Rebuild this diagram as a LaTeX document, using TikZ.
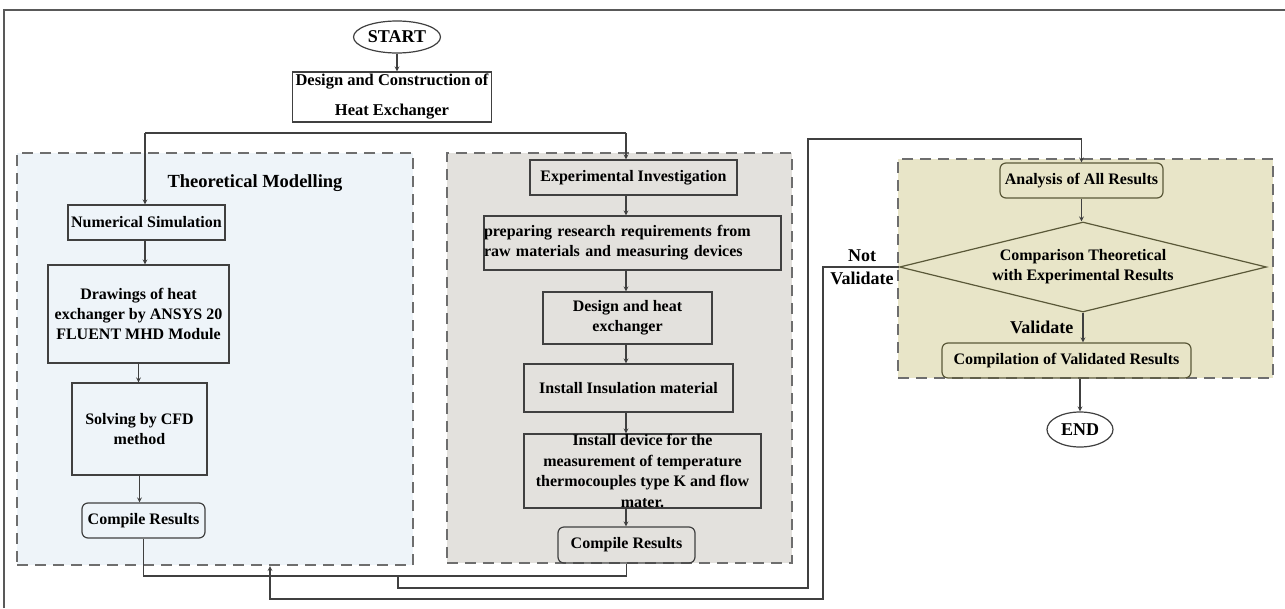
\documentclass[tikz,border=0pt]{standalone}
\usepackage{fontspec}
\setmainfont{Liberation Serif}
\usepackage{tikz}
\usetikzlibrary{shapes,arrows}

\definecolor{thfill}{HTML}{EEF4F9}
\definecolor{exfill}{HTML}{E3E1DD}
\definecolor{anfill}{HTML}{E8E5C8}
\definecolor{linec}{HTML}{404040}
\definecolor{dashc}{HTML}{6E6E6E}
\definecolor{olive}{HTML}{5A5838}

\begin{document}
\begin{tikzpicture}[x=1pt,y=-1pt,
    box/.style={rectangle,draw=linec,line width=1.2pt,inner sep=0pt,align=center,
        font=\bfseries\fontsize{16}{20}\selectfont},
    rbox/.style={box,rounded corners=6pt},
    panel/.style={rectangle,draw=dashc,line width=2pt,dash pattern=on 11pt off 7pt},
    term/.style={ellipse,draw=linec,line width=1.2pt,inner sep=0pt,
        font=\bfseries\fontsize{18}{20}\selectfont},
    conn/.style={draw=linec,line width=1.2pt},
    arr/.style={conn,->,>=stealth},
    lbl/.style={font=\bfseries\fontsize{18}{23}\selectfont,align=center,inner sep=0pt}]
        \useasboundingbox (0,0) rectangle (1285,608);
        \fill[white] (0,0) rectangle (1285,608);

        % 外框
        \draw[line width=1.2pt,black!65] (4,608) -- (4,10) -- (1285,10);

        % 三个虚线区域
        \node[panel,fill=thfill,minimum width=396,minimum height=412] (theo) at (215,359) {};
        \node[panel,fill=exfill,minimum width=345,minimum height=410] (expr) at (619.5,358) {};
        \node[panel,fill=anfill,minimum width=375,minimum height=219] (anl) at (1085.5,268.5) {};

        % 开始
        \node[term,minimum width=87,minimum height=32] (start) at (397,37) {START};
        \node[box,minimum width=199,minimum height=50,
              font=\bfseries\fontsize{16.5}{30}\selectfont] (design) at (392,97) {
            Design and Construction of\\Heat Exchanger};

        % 理论建模
        \node[font=\bfseries\fontsize{18.5}{20}\selectfont] (theohead) at (255,183) {Theoretical Modelling};
        \node[box,minimum width=157,minimum height=35] (numsim) at (146.5,222.5) {Numerical Simulation};
        \node[box,minimum width=181,minimum height=98] (drawing) at (138.5,314) {
            Drawings of heat\\exchanger by ANSYS 20\\FLUENT MHD Module};
        \node[box,minimum width=135,minimum height=92] (solving) at (139.5,429) {Solving by CFD\\method};
        \node[rbox,minimum width=123,minimum height=35] (compth) at (143.5,520.5) {Compile Results};

        % 实验研究
        \node[box,minimum width=207,minimum height=35] (expinv) at (633.5,177.5) {Experimental Investigation};
        \node[box,text width=297,align=left,minimum height=54] (prep) at (632.5,243) {
            preparing research requirements from\\raw materials and measuring devices};
        \node[box,minimum width=169,minimum height=52] (dsgn) at (627.5,318) {Design and heat\\exchanger};
        \node[box,minimum width=209,minimum height=48] (insul) at (628.5,388) {Install Insulation material};
        \node[box,minimum width=237,minimum height=74,
              font=\bfseries\fontsize{16}{20.5}\selectfont] (device) at (642.5,471) {
            Install device for the\\measurement of temperature\\thermocouples type K and flow\\mater.};
        \node[rbox,minimum width=137,minimum height=36] (compex) at (626.5,545) {Compile Results};

        % 结果分析
        \node[rbox,draw=olive,minimum width=163,minimum height=35] (analysis) at (1081.5,180.5) {Analysis of All Results};
        \node[diamond,aspect=4,draw=olive,line width=1.2pt,inner sep=0pt,minimum width=367,minimum height=90,
              align=center,font=\bfseries\fontsize{16}{20}\selectfont] (compare) at (1083,267) {
            Comparison Theoretical\\with Experimental Results};
        \node[rbox,draw=olive,minimum width=249,minimum height=35] (valid) at (1066.5,360.5) {Compilation of Validated Results};
        \node[term,minimum width=66,minimum height=35] (finish) at (1080,429.5) {END};
        \node[lbl] (notval) at (862,267) {Not\\Validate};

        % 上部分叉
        \draw[arr] (start.south) -- (start.south |- design.north);
        \coordinate (forkL) at (145,133);
        \coordinate (forkR) at (626,133);
        \draw[conn] (forkL) -- (forkR);
        \draw[arr] (forkL) -- (numsim.north -| forkL);
        \draw[arr] (forkR) -- (expinv.north -| forkR);

        % 左列箭头
        \draw[arr] (numsim.south -| forkL) -- (drawing.north -| forkL);
        \draw[arr] (drawing.south) -- (drawing.south |- solving.north);
        \draw[arr] (solving.south) -- (solving.south |- compth.north);

        % 中列箭头
        \draw[arr] (expinv.south -| forkR) -- (prep.north -| forkR);
        \draw[arr] (prep.south -| forkR) -- (dsgn.north -| forkR);
        \draw[arr] (dsgn.south -| forkR) -- (insul.north -| forkR);
        \draw[arr] (insul.south -| forkR) -- (device.north -| forkR);
        \draw[arr] (device.south -| forkR) -- (compex.north -| forkR);

        % 右列箭头
        \draw[arr] (analysis.south) -- (analysis.south |- compare.north);
        \draw[arr] (compare.south) -- node[lbl,left=9pt] {Validate} (compare.south |- valid.north);
        \draw[arr] (finish.north |- valid.south) -- (finish.north);

        % 底部汇总与回路
        \coordinate (j1) at (398,576);
        \draw[conn] (compth.south) |- (j1) -| (compex.south);
        \coordinate (up1) at (808,139);
        \draw[arr] (j1) -- ++(0,12) -| (up1) -| (analysis.north);
        \coordinate (loopR) at (823,599);
        \coordinate (loopL) at (270,599);
        \draw[arr] (compare.west) -| (loopR) -- (loopL) [rounded corners=8pt] -- (loopL |- theo.south);
    \end{tikzpicture}
\end{document}
